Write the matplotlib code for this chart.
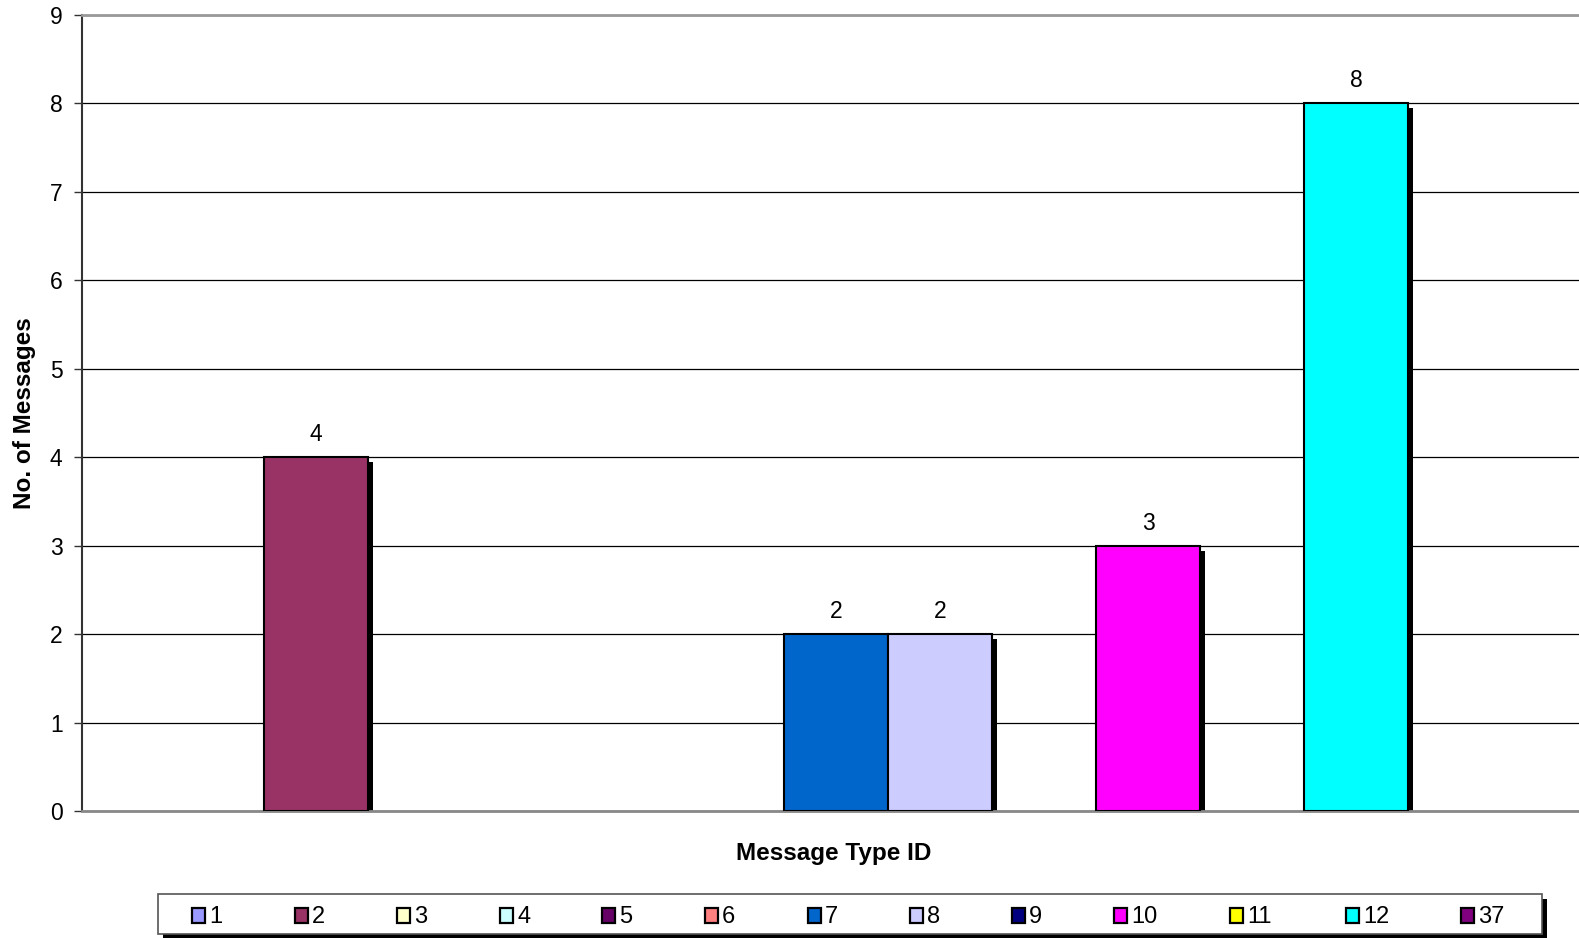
import numpy as np
import matplotlib
matplotlib.use("Agg")
from matplotlib import pyplot as plt
from matplotlib.patches import Rectangle

plt.rcParams['font.family'] = ['Liberation Sans', 'DejaVu Sans']

# message type ids and counts (empty series are not drawn)
type_ids = ['1', '2', '3', '4', '5', '6', '7', '8', '9', '10', '11', '12', '37']
counts = [0, 4, 0, 0, 0, 0, 2, 2, 0, 3, 0, 8, 0]
colors = ['#9999FF', '#993366', '#FFFFCC', '#CCFFFF', '#660066', '#FF8080',
          '#0066CC', '#CCCCFF', '#000080', '#FF00FF', '#FFFF00', '#00FFFF', '#800080']

W, H = 1579, 938
fig = plt.figure(figsize=(W/100, H/100), dpi=100)
ax = fig.add_axes([82/W, 1-811/H, 1-82/W, (811-15)/H])

ymax = 9
ax.set_ylim(0, ymax)
ax.set_xlim(-1.25, 13.14)

px_x = 1/104.0          # data units per pixel in x
px_y = ymax/796.0       # data units per pixel in y

for i, (v, c) in enumerate(zip(counts, colors)):
    if v <= 0:
        continue
    # shadow
    ax.bar(i + 5*px_x, v - 5*px_y, width=1, color='black', zorder=2, linewidth=0)
    ax.bar(i, v, width=1, color=c, edgecolor='black', linewidth=1.5, zorder=3)
    ax.text(i, v + 16*px_y, str(v), ha='center', va='baseline', fontsize=16.5)

ax.set_yticks(range(0, ymax+1))
ax.tick_params(axis='y', labelsize=16.5, length=6, width=1, color='#333333', direction='out', pad=8)
ax.set_xticks([])
ax.grid(axis='y', color='black', linewidth=0.9)
ax.set_axisbelow(True)

ax.spines['right'].set_visible(False)
ax.spines['top'].set_color('#999999')
ax.spines['top'].set_linewidth(2)
ax.spines['bottom'].set_color('#888888')
ax.spines['bottom'].set_linewidth(2)
ax.spines['left'].set_color('#333333')
ax.spines['left'].set_linewidth(1.5)

ax.set_ylabel('No. of Messages', fontsize=17.5, fontweight='bold', labelpad=10)
fig.text(834/W, 1-860/H, 'Message Type ID', ha='center', va='baseline', fontsize=17.5, fontweight='bold')

# legend drawn by hand: frame, shadow, swatches
lx0, ly0, lx1, ly1 = 158, 894, 1542, 934
fig.patches.append(Rectangle(((lx0+5)/W, 1-(ly1+5)/H), (lx1-lx0)/W, (ly1-ly0)/H,
                             transform=fig.transFigure, facecolor='black', edgecolor='none', zorder=1))
fig.patches.append(Rectangle((lx0/W, 1-ly1/H), (lx1-lx0)/W, (ly1-ly0)/H,
                             transform=fig.transFigure, facecolor='white', edgecolor='#555555',
                             linewidth=1.2, zorder=2))
sw_x = [192, 295, 397, 500, 602, 705, 808, 910, 1012, 1114, 1230, 1346, 1461]
base = 923
for x, lab, c in zip(sw_x, type_ids, colors):
    fig.patches.append(Rectangle((x/W, 1-base/H), 13/W, 15/H, transform=fig.transFigure,
                                 facecolor=c, edgecolor='black', linewidth=1.6, zorder=3))
    fig.text((x+17)/W, 1-base/H, lab, ha='left', va='baseline', fontsize=17, zorder=3)

fig.savefig('out.png', dpi=100)
